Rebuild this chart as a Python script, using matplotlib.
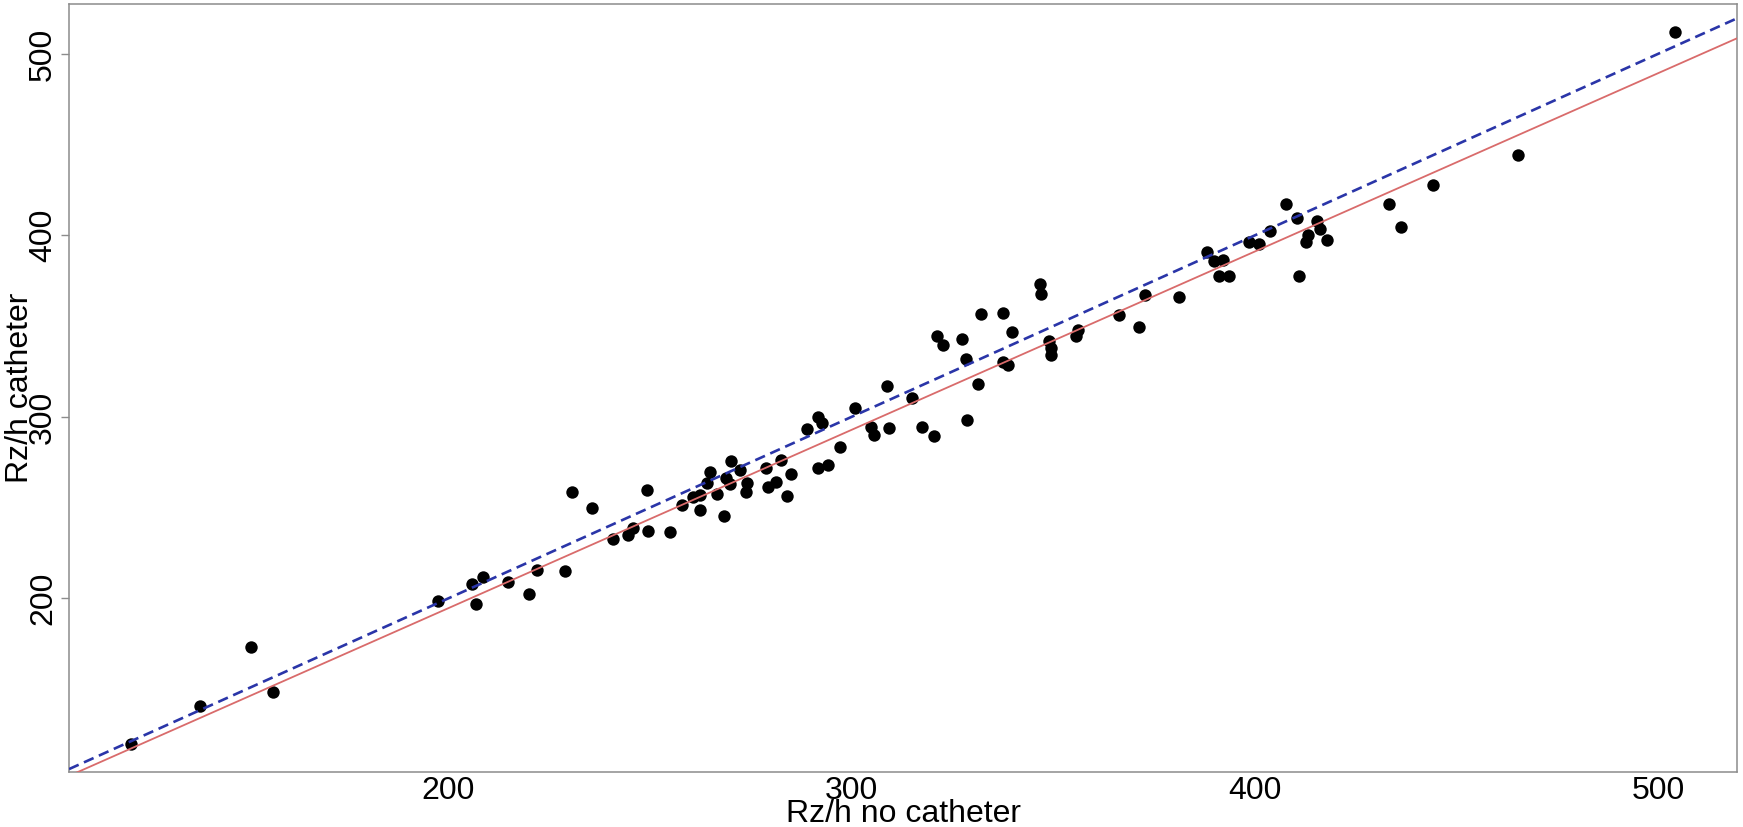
import matplotlib
matplotlib.use('Agg')
import matplotlib.pyplot as plt
import numpy as np

matplotlib.rcParams['font.family'] = ['Liberation Sans', 'DejaVu Sans']

# Rz/h without / with catheter
no_cath = [121.3, 138.5, 151.1, 156.5, 197.4, 206.0, 208.6, 207.0, 214.9, 220.0,
           222.0, 229.1, 230.7, 235.6, 241.0, 244.5, 245.9, 249.2, 249.5, 254.9,
           257.9, 260.8, 262.4, 262.5, 265.0, 264.1, 266.7, 268.4, 270.1, 268.9,
           269.8, 272.3, 274.0, 273.8, 278.9, 279.3, 281.4, 282.6, 284.1, 285.0,
           289.0, 291.8, 292.8, 291.6, 294.2, 297.1, 300.8, 304.9, 305.6, 308.9,
           309.3, 315.1, 317.5, 320.4, 321.3, 322.8, 327.3, 328.5, 328.6, 331.4,
           332.2, 337.5, 339.8, 337.6, 338.8, 346.7, 347.0, 348.9, 349.6, 349.4,
           355.8, 356.3, 366.3, 371.3, 372.7, 381.2, 388.2, 389.8, 392.1, 391.2,
           393.6, 398.5, 401.1, 403.8, 407.7, 410.6, 410.9, 413.2, 412.6, 415.4,
           416.3, 417.8, 433.2, 436.3, 444.2, 465.4, 504.3]
cath = [120.1, 140.9, 173.4, 148.3, 198.8, 208.1, 211.6, 196.9, 208.9, 202.3,
        215.8, 215.2, 258.4, 249.6, 232.5, 235.0, 238.6, 259.6, 237.1, 236.6,
        251.5, 255.8, 256.9, 249.0, 269.5, 263.6, 257.3, 245.3, 275.8, 266.6,
        262.8, 271.0, 263.6, 258.5, 271.6, 261.3, 264.4, 276.1, 256.2, 268.6,
        293.4, 300.0, 296.7, 271.7, 273.6, 283.3, 305.1, 294.3, 290.1, 317.2,
        294.1, 310.4, 294.3, 289.7, 344.5, 339.4, 343.1, 331.7, 298.3, 318.3,
        356.8, 357.0, 346.6, 330.3, 328.6, 373.0, 367.9, 341.8, 337.8, 334.3,
        344.5, 347.8, 356.3, 349.3, 367.3, 366.0, 391.1, 386.0, 386.2, 377.5,
        377.5, 396.1, 395.1, 402.5, 417.4, 409.7, 377.5, 400.1, 396.6, 408.0,
        403.6, 397.2, 417.4, 404.5, 427.8, 444.5, 511.8]

# fitted regression line (intercept, slope); the dashed line is y = x
fit_a, fit_b = -1.9, 0.9825
x_ticks = [200, 300, 400, 500]
y_ticks = [200, 300, 400, 500]

fig = plt.figure(figsize=(17.43, 8.27), dpi=100)
ax = fig.add_axes([0.0396, 0.0665, 0.9570, 0.9287])

ax.scatter(no_cath, cath, s=80, color='black', linewidths=0, zorder=2)

xlo, xhi = 106.0, 519.6
ylo, yhi = 104.4, 527.5
xx = np.array([xlo, xhi])
ax.plot(xx, fit_a + fit_b * xx, color='#d96b6b', lw=1.3, zorder=3)
ax.plot(xx, xx, color='#2a35a8', lw=1.9, dashes=(4.0, 2.2), zorder=4)

ax.set_xlim(xlo, xhi)
ax.set_ylim(ylo, yhi)

ax.set_xticks(x_ticks)
ax.set_yticks(y_ticks)
ax.tick_params(axis='x', length=0, pad=3, labelsize=23)
ax.tick_params(axis='y', length=6, width=1.0, color='#8c8c8c', pad=2,
               labelsize=23)
for lab in ax.get_yticklabels():
    lab.set_rotation(90)
    lab.set_verticalalignment('center')

for sp in ax.spines.values():
    sp.set_color('#8c8c8c')
    sp.set_linewidth(1.1)

ax.set_xlabel('Rz/h no catheter', fontsize=23)
ax.xaxis.set_label_coords(0.5, -0.035)
ax.set_ylabel('Rz/h catheter', fontsize=23)
ax.yaxis.set_label_coords(-0.0205, 0.5)

fig.savefig('out.png', dpi=100)
plt.close()
